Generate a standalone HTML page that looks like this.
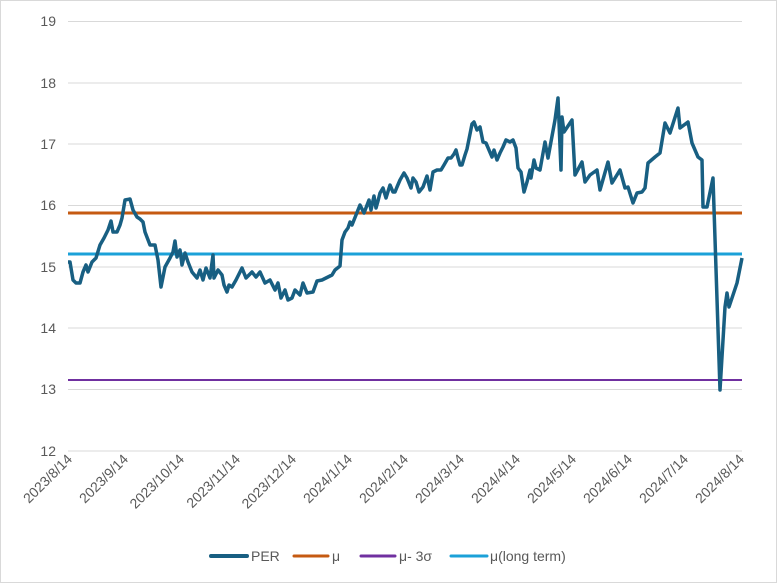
<!DOCTYPE html>
<html><head><meta charset="utf-8"><style>
body{margin:0;background:#fff}
svg{display:block;font-family:"Liberation Sans",sans-serif}
</style></head><body>
<svg width="777" height="583" viewBox="0 0 777 583">
<rect x="0.5" y="0.5" width="776" height="582" fill="#fff" stroke="#d9d9d9"/>
<g stroke="#d9d9d9" stroke-width="1">
<line x1="68" x2="742" y1="21.5" y2="21.5"/><line x1="68" x2="742" y1="83" y2="83"/>
<line x1="68" x2="742" y1="144" y2="144"/><line x1="68" x2="742" y1="205.5" y2="205.5"/>
<line x1="68" x2="742" y1="267" y2="267"/><line x1="68" x2="742" y1="328" y2="328"/>
<line x1="68" x2="742" y1="389.5" y2="389.5"/><line x1="68" x2="742" y1="451" y2="451"/>
</g>
<g fill="#595959" font-size="14" text-anchor="end">
<text x="56" y="26">19</text><text x="56" y="88">18</text><text x="56" y="149">17</text>
<text x="56" y="210">16</text><text x="56" y="272">15</text><text x="56" y="333">14</text>
<text x="56" y="394">13</text><text x="56" y="456">12</text>
</g>
<g fill="#595959" font-size="14" text-anchor="end">
<text transform="translate(73,460) rotate(-45)">2023/8/14</text>
<text transform="translate(129,460) rotate(-45)">2023/9/14</text>
<text transform="translate(185,460) rotate(-45)">2023/10/14</text>
<text transform="translate(241,460) rotate(-45)">2023/11/14</text>
<text transform="translate(297,460) rotate(-45)">2023/12/14</text>
<text transform="translate(353,460) rotate(-45)">2024/1/14</text>
<text transform="translate(409,460) rotate(-45)">2024/2/14</text>
<text transform="translate(465,460) rotate(-45)">2024/3/14</text>
<text transform="translate(521,460) rotate(-45)">2024/4/14</text>
<text transform="translate(577,460) rotate(-45)">2024/5/14</text>
<text transform="translate(633,460) rotate(-45)">2024/6/14</text>
<text transform="translate(689,460) rotate(-45)">2024/7/14</text>
<text transform="translate(745,460) rotate(-45)">2024/8/14</text>
</g>
<line x1="68" x2="742" y1="213" y2="213" stroke="#c55a11" stroke-width="3"/>
<line x1="68" x2="742" y1="380" y2="380" stroke="#7030a0" stroke-width="2"/>
<line x1="68" x2="742" y1="254" y2="254" stroke="#1ba1d8" stroke-width="3"/>
<polyline fill="none" stroke="#185f82" stroke-width="3.5" stroke-linejoin="round" points="68,262 70,262 73,280 76,283 80,283 83,272 86,265 88,272 92,262 96,258 100,245 104,238 108,230 111,221 113,232 117,232 120,225 122,218 125,200 130,199 133,210 137,217 140,219 143,222 145,232 150,245 155,245 158,260 161,287 165,267 170,258 173,252 175,241 177,257 180,250 182,265 185,253 188,262 192,272 197,278 200,270 203,280 206,268 210,278 213,255 214,278 218,270 222,275 224,285 227,292 229,285 232,287 236,280 242,268 246,278 252,272 256,277 260,272 265,283 270,280 275,290 278,283 281,298 285,290 288,300 292,298 295,290 300,295 303,283 307,293 313,292 317,281 322,280 328,277 332,275 335,270 340,266 342,240 345,232 348,228 350,222 352,225 356,215 360,205 364,213 369,200 371,210 374,196 376,208 378,201 380,193 383,188 386,198 390,185 393,192 395,192 397,187 400,180 404,173 407,178 411,188 413,178 416,182 419,192 423,187 427,176 430,190 433,172 437,170 441,170 444,165 448,158 451,158 454,154 456,150 458,158 460,165 462,165 465,155 467,149 472,124 474,122 477,130 480,127 483,142 486,143 489,150 492,157 494,150 497,160 500,153 503,147 506,140 510,142 513,140 516,148 518,168 521,172 524,192 527,182 530,170 531,178 534,160 536,168 540,170 545,142 548,158 555,120 558,98 561,170 562,117 564,132 572,120 575,175 582,162 585,182 590,175 597,170 600,190 608,162 612,183 620,170 625,188 628,187 633,203 637,193 642,192 645,188 648,163 655,157 660,153 665,123 670,133 678,108 680,128 688,122 692,143 698,157 702,160 703,207 707,207 713,178 720,390 725,307 727,293 729,307 737,283 742,258"/>
<g font-size="14" fill="#595959">
<line x1="211" x2="247" y1="556" y2="556" stroke="#185f82" stroke-width="4" stroke-linecap="round"/>
<text x="251" y="561">PER</text>
<line x1="294" x2="328" y1="556" y2="556" stroke="#c55a11" stroke-width="3" stroke-linecap="round"/>
<text x="332" y="561">μ</text>
<line x1="361" x2="395" y1="556" y2="556" stroke="#7030a0" stroke-width="3" stroke-linecap="round"/>
<text x="399" y="561">μ- 3σ</text>
<line x1="451" x2="487" y1="556" y2="556" stroke="#1ba1d8" stroke-width="3" stroke-linecap="round"/>
<text x="490" y="561">μ(long term)</text>
</g>
</svg>
</body></html>
